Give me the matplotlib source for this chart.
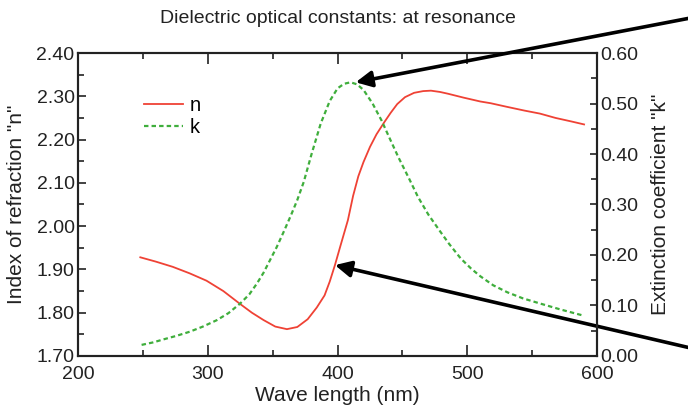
import matplotlib
matplotlib.use('Agg')
import matplotlib.pyplot as plt
from matplotlib.ticker import MultipleLocator

plt.rcParams['font.family'] = ['Liberation Sans', 'DejaVu Sans']

# refractive index n (left axis)
wl_n = [248, 260, 273, 286, 299, 312, 325, 334, 343, 352, 361, 369, 377, 384, 390,
        394, 398, 402, 408, 412, 416, 420, 425, 430, 436, 441, 446, 452, 459, 466,
        472, 479, 485, 497, 510, 518, 530, 544, 556, 568, 580, 590]
n_vals = [1.928, 1.918, 1.906, 1.891, 1.874, 1.850, 1.820, 1.800, 1.783, 1.768, 1.762,
          1.767, 1.785, 1.812, 1.840, 1.872, 1.910, 1.952, 2.014, 2.070, 2.115, 2.148,
          2.183, 2.212, 2.240, 2.262, 2.282, 2.298, 2.308, 2.312, 2.313, 2.310, 2.306,
          2.297, 2.288, 2.284, 2.276, 2.267, 2.260, 2.250, 2.242, 2.235]

# extinction coefficient k (right axis)
wl_k = [249, 258, 266, 276, 286, 296, 307, 316, 325, 332, 338, 343, 348, 353, 358,
        364, 369, 374, 380, 387, 394, 400, 405, 410, 415, 420, 427, 434, 440, 447,
        455, 462, 470, 479, 486, 495, 503, 510, 520, 531, 543, 556, 572, 588]
k_vals = [0.022, 0.027, 0.033, 0.040, 0.048, 0.058, 0.071, 0.085, 0.104, 0.122, 0.144,
          0.165, 0.190, 0.215, 0.243, 0.278, 0.309, 0.345, 0.400, 0.460, 0.505, 0.530,
          0.539, 0.542, 0.538, 0.527, 0.500, 0.466, 0.432, 0.393, 0.352, 0.315, 0.280,
          0.247, 0.222, 0.193, 0.173, 0.158, 0.140, 0.126, 0.114, 0.104, 0.092, 0.081]

red = '#ef4235'
green = '#3fae3c'
ink = '#222222'

fig = plt.figure(figsize=(6.88, 4.09), dpi=100)
ax = fig.add_axes([0.1134, 0.1296, 0.7544, 0.7408])
ax2 = ax.twinx()

ln_n, = ax.plot(wl_n, n_vals, color=red, lw=1.3, label='n')
ln_k, = ax2.plot(wl_k, k_vals, color=green, lw=1.6, ls=(0, (2.0, 1.4)), label='k')

ax.set_xlim(200, 600)
ax.set_ylim(1.70, 2.40)
ax2.set_ylim(0.0, 0.60)

ax.xaxis.set_major_locator(MultipleLocator(100))
ax.xaxis.set_minor_locator(MultipleLocator(50))
ax.yaxis.set_major_locator(MultipleLocator(0.1))
ax.yaxis.set_minor_locator(MultipleLocator(0.05))
ax2.yaxis.set_major_locator(MultipleLocator(0.1))
ax2.yaxis.set_minor_locator(MultipleLocator(0.05))
ax.yaxis.set_major_formatter(lambda v, p: f'{v:.2f}')
ax2.yaxis.set_major_formatter(lambda v, p: f'{v:.2f}')

for a in (ax, ax2):
    for s in a.spines.values():
        s.set_linewidth(1.5)
        s.set_color(ink)

ax.tick_params(axis='x', which='both', direction='in', top=True, width=1.2,
               labelsize=14, pad=7, colors=ink)
ax.tick_params(axis='x', which='major', length=8)
ax.tick_params(axis='x', which='minor', length=4)
ax.tick_params(axis='y', which='both', direction='in', right=False, width=1.2,
               labelsize=14, pad=2.5, colors=ink)
ax.tick_params(axis='y', which='major', length=5.5)
ax.tick_params(axis='y', which='minor', length=4)
ax2.tick_params(axis='y', which='both', direction='in', width=1.2,
                labelsize=14, pad=2, colors=ink)
ax2.tick_params(axis='y', which='major', length=5)
ax2.tick_params(axis='y', which='minor', length=4)

ax.set_xlabel('Wave length (nm)', fontsize=15, color=ink)
ax.set_ylabel('Index of refraction "n"', fontsize=15, color=ink)
ax2.set_ylabel('Extinction coefficient "k"', fontsize=15, color=ink)
ax.xaxis.set_label_coords(0.5, -0.098)
ax.yaxis.set_label_coords(-0.10, 0.5)
ax2.yaxis.set_label_coords(1.103, 0.5)
ax.set_title('Dielectric optical constants: at resonance', fontsize=14, color=ink,
             y=1.07)

ax.legend(handles=[ln_n, ln_k], loc='upper left', bbox_to_anchor=(0.097, 0.91),
          frameon=False, fontsize=14.5, handlelength=1.9, handletextpad=0.35,
          labelspacing=0.12, borderpad=0.3)

# arrows pointing at the resonance
ipk = k_vals.index(max(k_vals))
ax2.annotate('', xy=(wl_k[ipk] + 4, k_vals[ipk]), xycoords='data',
             xytext=(1.05, 0.971), textcoords='figure fraction',
             annotation_clip=False,
             arrowprops=dict(arrowstyle='-|>', lw=2.6, color='black',
                             mutation_scale=24, shrinkA=0, shrinkB=0))
i400 = wl_n.index(398)
ax.annotate('', xy=(wl_n[i400], n_vals[i400]), xycoords='data',
            xytext=(1.05, 0.131), textcoords='figure fraction',
            annotation_clip=False,
            arrowprops=dict(arrowstyle='-|>', lw=2.6, color='black',
                            mutation_scale=24, shrinkA=0, shrinkB=0))

fig.savefig('out.png', dpi=100)
